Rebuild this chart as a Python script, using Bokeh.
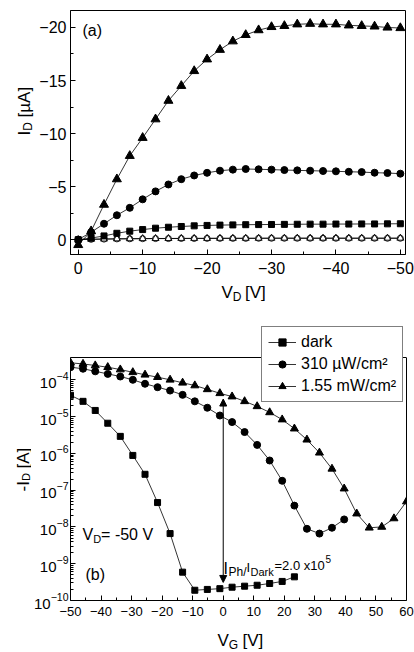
from bokeh.plotting import figure
from bokeh.models import (Range1d, FixedTicker, Label, Legend, LegendItem, Arrow, NormalHead,
                          LogAxis, Span)
from bokeh.layouts import column, row
from bokeh.embed import file_html
from bokeh.resources import INLINE

FONT = "Liberation Sans"

# ---------------- Panel (a): output characteristics ----------------
vd = [0, -2, -4, -6, -8, -10, -12, -14, -16, -18, -20, -22, -24, -26, -28, -30,
      -32, -34, -36, -38, -40, -42, -44, -46, -48, -50]
id_tri = [0.5, -0.8, -3.3, -5.7, -7.9, -9.6, -11.35, -13.1, -14.5, -15.9, -17.0, -17.9,
          -18.7, -19.3, -19.75, -20.05, -20.15, -20.3, -20.35, -20.3, -20.3, -20.2,
          -20.15, -20.1, -20.0, -19.95]
id_circ = [0.0, -0.7, -1.5, -2.3, -3.0, -3.8, -4.55, -5.2, -5.7, -6.05, -6.3, -6.5,
           -6.6, -6.66, -6.63, -6.6, -6.56, -6.53, -6.5, -6.47, -6.44, -6.4, -6.37,
           -6.31, -6.28, -6.22]
id_sq = [0.0, -0.15, -0.35, -0.6, -0.8, -0.95, -1.08, -1.17, -1.24, -1.3, -1.34, -1.37,
         -1.39, -1.41, -1.42, -1.43, -1.44, -1.45, -1.46, -1.46, -1.47, -1.47, -1.48,
         -1.48, -1.49, -1.5]
id_open_c = [0.0, -0.03, -0.05, -0.07, -0.08, -0.09, -0.1, -0.1, -0.11, -0.11, -0.12,
             -0.12, -0.12, -0.12, -0.13, -0.13, -0.13, -0.13, -0.13, -0.13, -0.13,
             -0.13, -0.13, -0.13, -0.13, -0.13]
id_open_t = [0.0, -0.04, -0.06, -0.08, -0.09, -0.1, -0.11, -0.11, -0.12, -0.12, -0.12,
             -0.13, -0.13, -0.13, -0.13, -0.14, -0.14, -0.14, -0.14, -0.14, -0.14,
             -0.14, -0.14, -0.14, -0.14, -0.14]
xticks_a = [0, -10, -20, -30, -40, -50]
xminor_a = [-5, -15, -25, -35, -45]
yticks_a = [0, -5, -10, -15, -20]
yminor_a = [-2.5, -7.5, -12.5, -17.5]

# ---------------- Panel (b): transfer characteristics ----------------
vg = [-50.0, -45.9, -41.9, -37.8, -33.7, -29.6, -25.6, -21.5, -17.4, -13.3, -9.3, -5.2,
      -1.1, 2.9, 7.0, 11.1, 15.2, 19.3, 23.3, 27.4, 31.5, 35.6, 39.6, 43.7, 47.8, 51.9,
      55.9, 60.0]
i_dark = [3.8e-5, 2.6e-5, 1.47e-5, 6.6e-6, 2.9e-6, 8.8e-7, 2.7e-7, 4.6e-8, 6.6e-9,
          5.9e-10, 1.9e-10, 2.0e-10, 2.1e-10, 2.3e-10, 2.45e-10, 2.6e-10, 2.9e-10,
          3.3e-10, 4.4e-10]
i_310 = [2.2e-4, 2.0e-4, 1.7e-4, 1.45e-4, 1.23e-4, 1.0e-4, 7.8e-5, 6.3e-5, 5.1e-5,
         3.9e-5, 2.6e-5, 1.74e-5, 1.07e-5, 7.1e-6, 3.8e-6, 1.7e-6, 6.4e-7, 1.8e-7,
         3.8e-8, 8.9e-9, 6.6e-9, 9.5e-9, 1.6e-8]
i_155 = [2.9e-4, 2.7e-4, 2.45e-4, 2.2e-4, 1.9e-4, 1.6e-4, 1.37e-4, 1.18e-4, 1.0e-4,
         8.3e-5, 7.0e-5, 5.5e-5, 4.3e-5, 3.5e-5, 2.6e-5, 1.9e-5, 1.3e-5, 8.3e-6, 4.7e-6,
         2.35e-6, 1.04e-6, 3.8e-7, 1.1e-7, 2.3e-8, 9.5e-9, 1.0e-8, 1.7e-8, 4.9e-8]
labels_b = ["dark", "310 \u00b5W/cm\u00b2", "1.55 mW/cm\u00b2"]
xticks_b = [-50, -40, -30, -20, -10, 0, 10, 20, 30, 40, 50, 60]
xminor_b = [-45, -35, -25, -15, -5, 5, 15, 25, 35, 45, 55]
decades = [1e-10, 1e-9, 1e-8, 1e-7, 1e-6, 1e-5, 1e-4]
box_b = (1e-10, 4.04e-4)          # visible plot box of panel (b)
ratio_arrow = (3.1e-10, 3.0e-5)


def style_axes(p, xsize, ysize, xstand, ystand):
    for ax in list(p.xaxis) + list(p.yaxis):
        ax.major_tick_in = 5
        ax.major_tick_out = 0
        ax.minor_tick_in = 3
        ax.minor_tick_out = 0
        ax.axis_line_color = "black"
        ax.major_tick_line_color = "black"
        ax.minor_tick_line_color = "black"
        ax.major_label_text_font = FONT
        ax.major_label_text_color = "black"
    p.xaxis.major_label_text_font_size = xsize
    p.yaxis.major_label_text_font_size = ysize
    p.xaxis.major_label_standoff = xstand
    p.yaxis.major_label_standoff = ystand
    p.xgrid.visible = False
    p.ygrid.visible = False
    p.background_fill_color = "white"
    p.border_fill_color = "white"


def txt(p, x, y, text, size, angle=0):
    p.add_layout(Label(x=x, y=y, x_units="screen", y_units="screen", text=text,
                       text_font=FONT, text_font_size=f"{size}px", text_color="black",
                       text_baseline="alphabetic", text_align="left",
                       angle=angle, angle_units="deg"))


def strip(w, h):
    s = figure(width=w, height=h, x_range=Range1d(0, 1), y_range=Range1d(0, 1),
               x_axis_location=None, y_axis_location=None, output_backend="svg",
               toolbar_location=None, min_border=0)
    s.outline_line_color = None
    s.xgrid.visible = False
    s.ygrid.visible = False
    return s


# ----- figure (a) -----
pa = figure(width=378, height=282, x_range=Range1d(1.2, -50.8), y_range=Range1d(1.4, -21.6),
            output_backend="svg", toolbar_location=None,
            min_border_left=32, min_border_right=9, min_border_top=10, min_border_bottom=28)
style_axes(pa, "16px", "16px", 7, 4)
pa.outline_line_color = "black"
pa.xaxis.ticker = FixedTicker(ticks=xticks_a, minor_ticks=xminor_a)
pa.yaxis.ticker = FixedTicker(ticks=yticks_a, minor_ticks=yminor_a)

for ys in (id_open_c, id_open_t, id_sq, id_circ, id_tri):
    pa.line(vd, ys, line_color="black", line_width=0.8)
pa.scatter(vd, id_open_c, marker="circle", size=6, fill_color="white", line_color="black", line_width=0.9)
pa.scatter(vd, id_open_t, marker="triangle", size=7, fill_color=None, line_color="black", line_width=0.9)
pa.scatter(vd, id_sq, marker="square", size=6, color="black")
pa.scatter(vd, id_circ, marker="circle", size=7, color="black")
pa.scatter(vd, id_tri, marker="triangle", size=9, color="black")
txt(pa, 12, 224, "(a)", 16)

ya = strip(36, 282)
txt(ya, 23.5, 119, "I", 17, 90)
txt(ya, 27, 123.7, "D", 12, 90)
txt(ya, 23.5, 137.1, "[\u00b5A]", 17, 90)

xa = strip(414, 38)
txt(xa, 221, 28, "V", 17)
txt(xa, 232.3, 24, "D", 12)
txt(xa, 244.5, 28, "[V]", 17)

# ----- figure (b) -----
pb = figure(width=383, height=302, x_range=Range1d(-50, 60), y_range=Range1d(1e-10, 3.19e-3),
            y_axis_type="log", output_backend="svg", toolbar_location=None,
            min_border_left=39, min_border_right=8, min_border_top=4, min_border_bottom=22)
style_axes(pb, "13px", "15px", 6, 2)
pb.outline_line_color = None
pb.xaxis.ticker = FixedTicker(ticks=xticks_b, minor_ticks=xminor_b)
yminor_b = [k * d for d in decades[:-1] for k in range(2, 10)] + [k * decades[-1] for k in range(2, 5)]
pb.yaxis.ticker = FixedTicker(ticks=decades, minor_ticks=yminor_b)
pb.yaxis.bounds = box_b
right_ax = LogAxis(ticker=FixedTicker(ticks=[]), bounds=box_b, axis_line_color="black",
                   major_tick_in=0, major_tick_out=0, minor_tick_in=0, minor_tick_out=0)
pb.add_layout(right_ax, "right")
pb.add_layout(Span(location=box_b[1], dimension="width", line_color="black", line_width=1))

n_d, n_3 = len(i_dark), len(i_310)
l1 = pb.line(vg[:n_d], i_dark, line_color="black", line_width=0.8)
s1 = pb.scatter(vg[:n_d], i_dark, marker="square", size=6, color="black")
l2 = pb.line(vg[:n_3], i_310, line_color="black", line_width=0.8)
s2 = pb.scatter(vg[:n_3], i_310, marker="circle", size=7, color="black")
l3 = pb.line(vg, i_155, line_color="black", line_width=0.8)
s3 = pb.scatter(vg, i_155, marker="triangle", size=8, color="black")

pb.add_layout(Arrow(x_start=0, y_start=ratio_arrow[0], x_end=0, y_end=ratio_arrow[1],
                    line_color="black", line_width=1,
                    start=NormalHead(size=7, fill_color="black", line_color="black"),
                    end=NormalHead(size=7, fill_color="black", line_color="black")))

legend = Legend(items=[LegendItem(label=labels_b[0], renderers=[l1, s1]),
                       LegendItem(label=labels_b[1], renderers=[l2, s2]),
                       LegendItem(label=labels_b[2], renderers=[l3, s3])],
                location=(191, 198), border_line_color="black", border_line_width=1,
                background_fill_color="white", background_fill_alpha=1.0,
                label_text_font=FONT, label_text_font_size="16px", label_text_color="black",
                glyph_width=28, glyph_height=18, label_height=18, label_standoff=5,
                spacing=4, padding=6, margin=0)
pb.add_layout(legend)

txt(pb, 12, 66, "V", 16)
txt(pb, 22.7, 62, "D", 11)
txt(pb, 30.6, 66, "= -50 V", 16)
txt(pb, 15, 26, "(b)", 16)
txt(pb, 153, 32, "I", 16)
txt(pb, 158, 29, "Ph/", 12)
txt(pb, 176, 33, "I", 13)
txt(pb, 180, 29, "Dark", 11)
txt(pb, 204, 35, "=2.0 x10", 13)
txt(pb, 255, 42, "5", 10)

yb = strip(31, 302)
txt(yb, 22.5, 109, "-I", 17, 90)
txt(yb, 25, 119.4, "D", 11, 90)
txt(yb, 22.5, 132, "[A]", 17, 90)

xb = strip(414, 30)
txt(xb, 217, 12, "V", 17)
txt(xb, 228.3, 8, "G", 12)
txt(xb, 242, 12, "[V]", 17)

layout = column(row(ya, pa, spacing=0), xa, row(yb, pb, spacing=0), xb, spacing=0)
open("out.html", "w").write(file_html(layout, INLINE))
